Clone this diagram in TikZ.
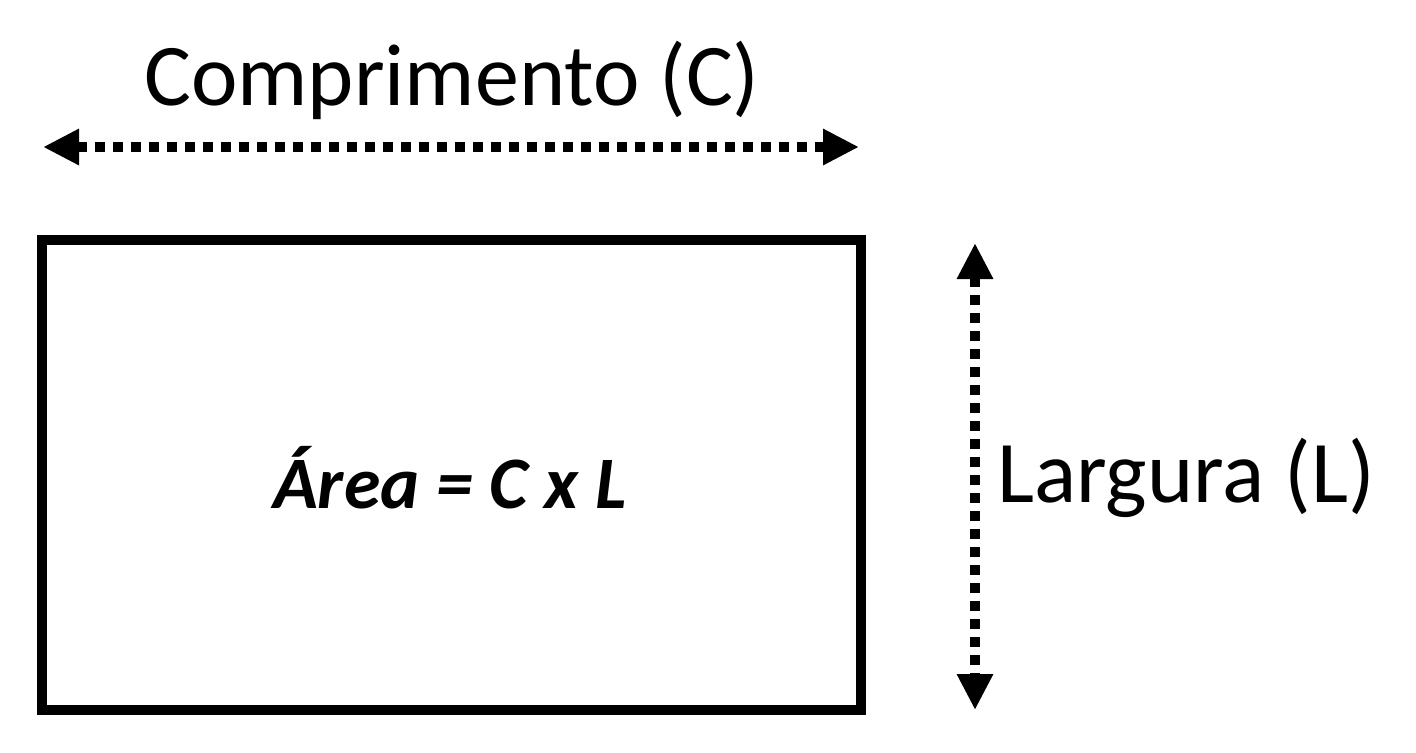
\documentclass[tikz,border=0pt]{standalone}
\usepackage{fontspec}
\setmainfont{Carlito}
\usetikzlibrary{arrows.meta}
\begin{document}
\begin{tikzpicture}[x=0.5pt,y=-0.5pt,
  dimarrow/.style={line width=5pt,dash pattern=on 5pt off 4pt,{Triangle[length=18pt,width=17pt]}-{Triangle[length=18pt,width=17pt]}}]
\useasboundingbox (0,0) rectangle (1416,752);
\node[draw,line width=5pt,minimum width=409.5pt,minimum height=235pt,inner sep=0] (box) at (451.5,475) {};
\node[font=\fontsize{37}{40}\selectfont\bfseries\itshape] (area) at (450,478) {Área = C x L};
\coordinate (h1) at (43,147); \coordinate (h2) at (859,147);
\draw[dimarrow] (h1) -- (h2);
\node[font=\fontsize{44}{48}\selectfont] (comp) at (452,80) {Comprimento (C)};
\coordinate (v1) at (975,243); \coordinate (v2) at (975,710);
\draw[dimarrow] (v1) -- (v2);
\node[font=\fontsize{44}{48}\selectfont] (larg) at (1186,478) {Largura (L)};
\end{tikzpicture}
\end{document}
